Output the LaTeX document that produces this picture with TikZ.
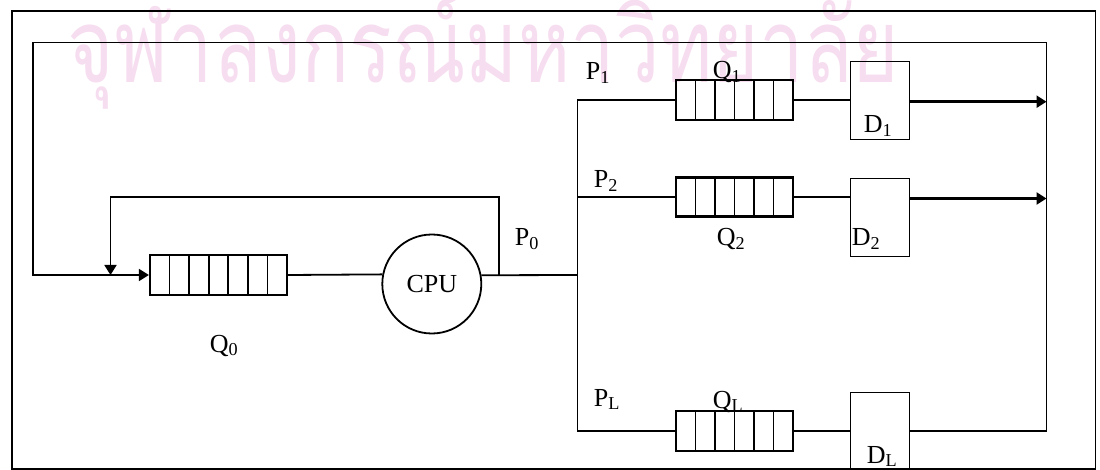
\documentclass[tikz,border=0pt]{standalone}
\usepackage{fontspec}
\setmainfont{Liberation Serif}
\newfontfamily\thaifont[Script=Thai]{Loma}
\usetikzlibrary{arrows.meta,calc}
\definecolor{wmpink}{RGB}{246,222,240}
\begin{document}
\begin{tikzpicture}[x=1pt,y=-1pt,
  line width=1.8pt,
  lbl/.style={font=\fontsize{26}{26}\selectfont, inner sep=0pt, anchor=base},
  queue/.style={draw, rectangle, inner sep=0pt, minimum height=40pt, line width=2.2pt,
    path picture={\foreach \k in {1,...,#1}{%
      \pgfmathsetmacro\fr{\k/(#1+1)}%
      \draw[line width=1.8pt] ($(path picture bounding box.south west)!\fr!(path picture bounding box.south east)$) -- ++(0pt,60pt);}}},
  dbox/.style={draw, rectangle, inner sep=0pt, minimum width=59pt, line width=1.8pt},
  arr/.style={-{Triangle[length=10pt,width=12pt]}},
  wm/.style={text=wmpink, inner sep=0pt, anchor=base west}
]
\useasboundingbox (0,0) rectangle (1100,470);
% watermark
\node[wm] (wmark) at (67,83) {\resizebox{831pt}{90pt}{\thaifont จุฬาลงกรณ์มหาวิทยาลัย}};
% frame
\draw (11.6,11) rectangle (1095.5,469);
% nodes
\node[queue=6, minimum width=137pt] (Q0) at (218.5,275) {};
\node[draw, circle, minimum size=99pt, inner sep=0pt, line width=1.8pt,
      font=\fontsize{26}{26}\selectfont] (cpu) at (431.8,284) {CPU};
\node[queue=5, minimum width=117pt] (Q1) at (734.5,100) {};
\node[queue=5, minimum width=117pt, minimum height=39pt] (Q2) at (734.5,197) {};
\node[queue=5, minimum width=117pt] (QL) at (734.5,430.7) {};
\node[dbox, minimum height=78pt] (D1) at (880,100.5) {};
\node[dbox, minimum height=78pt] (D2) at (880,217.5) {};
\node[dbox, minimum height=77pt] (DL) at (880,431) {};
% labels
\node[lbl] (lQ0) at (224,352) {Q\textsubscript{0}};
\node[lbl] (lP0) at (527,246) {P\textsubscript{0}};
\node[lbl] (lP1) at (598,80) {P\textsubscript{1}};
\node[lbl] (lQ1) at (727,79) {Q\textsubscript{1}};
\node[lbl] (lD1) at (878,133) {D\textsubscript{1}};
\node[lbl] (lP2) at (606,188) {P\textsubscript{2}};
\node[lbl] (lQ2) at (731,246) {Q\textsubscript{2}};
\node[lbl] (lD2) at (866,246) {D\textsubscript{2}};
\node[lbl] (lPL) at (607,406) {P\textsubscript{L}};
\node[lbl] (lQL) at (728,408) {Q\textsubscript{L}};
\node[lbl] (lDL) at (882,463) {D\textsubscript{L}};
% coordinates
\coordinate (bus) at (577.4,275);
\coordinate (IR) at (498.8,275);
\coordinate (IT) at (498.8,197);
\coordinate (IL) at (110.5,197);
\coordinate (IB) at (110.5,275);
\coordinate (R1) at (1046.5,101.7);
\coordinate (R2) at (1046.5,198.5);
\coordinate (RL) at (1046.5,431);
\coordinate (RT) at (1046.5,42.5);
\coordinate (LT) at (32.6,42.5);
\coordinate (LB) at (32.6,275);
% connectors
\draw (Q0.east) -- (cpu.169.5);
\draw (cpu.10.5) -- (bus);
\draw (Q1.west) -- (Q1.west -| bus) -- (QL.west -| bus) -- (QL.west);
\draw (Q2.west -| bus) -- (Q2.west);
\draw (Q1.east) -- (Q1.east -| D1.west);
\draw (Q2.east) -- (Q2.east -| D2.west);
\draw (QL.east) -- (QL.east -| DL.west);
\draw[arr, line width=2.4pt] (R1 -| D1.east) -- (R1);
\draw[arr, line width=2.4pt] (R2 -| D2.east) -- (R2);
\draw[arr] (IR) -- (IT) -- (IL) -- (IB);
\draw[arr] (DL.east) -- (RL) -- (RT) -- (LT) -- (LB) -- (Q0.west);
\end{tikzpicture}
\end{document}
